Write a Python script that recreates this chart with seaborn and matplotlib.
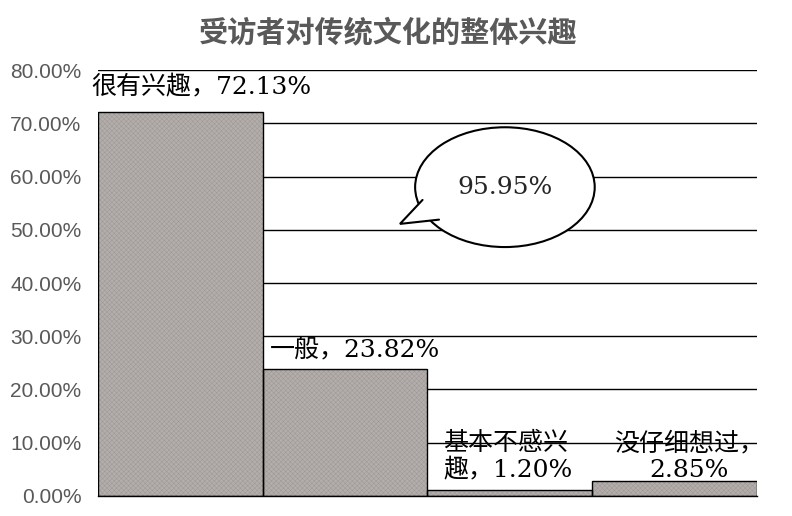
import numpy as np
import pandas as pd
import seaborn as sns
import matplotlib.pyplot as plt
from matplotlib.patches import Ellipse, Polygon

# data
categories = ['很有兴趣', '一般', '基本不感兴趣', '没仔细想过']
values = [72.13, 23.82, 1.20, 2.85]
bubble_value = 95.95   # 很有兴趣 + 一般
yticks = [0, 10, 20, 30, 40, 50, 60, 70, 80]

# label text layout (line breaks as in the reference)
label_texts = ['很有兴趣，72.13%', '一般，23.82%', '基本不感兴\n趣，1.20%', '没仔细想过，\n2.85%']
label_x = [-0.54, 0.545, 1.595, 3.09]
label_y = [76.8, 27.4, 7.3, 7.3]
label_ha = ['left', 'left', 'left', 'center']

df = pd.DataFrame({'cat': categories, 'val': values})

sns.set_theme(style='white')
plt.rcParams['font.family'] = ['Liberation Sans', 'Noto Sans CJK SC', 'DejaVu Sans']
plt.rcParams['hatch.linewidth'] = 0.3
plt.rcParams['hatch.color'] = '#9a9492'

fig = plt.figure(figsize=(7.92, 5.16), dpi=100)
ax = fig.add_axes([0.1237, 0.0388, 0.8321, 0.8255])

# hatched fill, then black outline on top
sns.barplot(data=df, x='cat', y='val', ax=ax, width=1, color='#b3adab',
            saturation=1, hatch='xxxxxxx', edgecolor='#9a9492', linewidth=0, zorder=2)
ax.bar(range(len(values)), values, width=1, fill=False, edgecolor='black',
       linewidth=1, zorder=3)

ax.set_xlim(-0.5, len(values) - 0.5)
ax.set_ylim(0, 80)
ax.set_yticks(yticks)
ax.set_yticklabels(['%.2f%%' % v for v in yticks], fontsize=15, color='#595959')
ax.set_xticks([])
ax.set_xlabel('')
ax.set_ylabel('')
ax.tick_params(axis='y', length=0, pad=12)

ax.yaxis.grid(True, color='black', linewidth=1)
ax.set_axisbelow(True)
for s in ['left', 'right', 'top']:
    ax.spines[s].set_visible(False)
ax.spines['bottom'].set_color('black')
ax.spines['bottom'].set_linewidth(1)

lab_font = ['DejaVu Serif', 'Noto Sans CJK SC']
for t, x, y, ha in zip(label_texts, label_x, label_y, label_ha):
    ax.text(x, y, t, ha=ha, va='center', fontsize=18, family=lab_font,
            color='black', zorder=5, linespacing=1.2, multialignment=ha)

# speech bubble
ell = Ellipse((1.97, 58.0), 1.09, 22.5, facecolor='white', edgecolor='black',
              linewidth=1.5, zorder=6)
ax.add_patch(ell)
tail = [(1.47, 55.6), (1.333, 51.1), (1.57, 51.9)]
ax.add_patch(Polygon(tail + [(1.6, 55)], closed=True, facecolor='white',
                     edgecolor='none', zorder=7))
ax.plot([p[0] for p in tail], [p[1] for p in tail], color='black',
        linewidth=1.5, zorder=8, solid_joinstyle='miter')
ax.text(1.97, 58.0, '%.2f%%' % bubble_value, ha='center', va='center',
        fontsize=18, family=lab_font, zorder=9)

fig.text(0.49, 0.938, '受访者对传统文化的整体兴趣', ha='center', va='center',
         fontsize=21, fontweight='bold', color='#595959', family=['Noto Sans CJK SC'])

fig.savefig('out.png', dpi=100)
